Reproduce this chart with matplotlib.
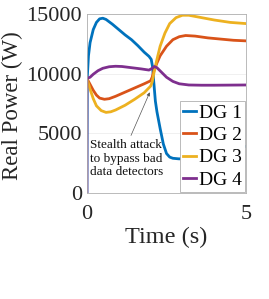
import matplotlib.pyplot as plt

plt.rcParams['font.family'] = ['Liberation Serif', 'DejaVu Serif']

# values (time in s, power in W)
t1 = [0, 0.01, 0.05, 0.1, 0.2, 0.3, 0.4, 0.5, 0.6, 0.8, 1.0, 1.2, 1.4, 1.6, 1.8, 1.95,
      2.02, 2.06, 2.1, 2.15, 2.2, 2.3, 2.4, 2.5, 2.6, 2.7, 2.9, 3.2, 3.6, 4.0, 4.5, 5.0]
p1 = [0, 9600, 11500, 12600, 13700, 14300, 14600, 14650, 14550, 14150, 13700, 13250,
      12850, 12350, 11800, 11450, 11200, 10600, 9300, 7700, 6800, 5400, 4100, 3300,
      3000, 2900, 2850, 2950, 3250, 3500, 3750, 3900]

t2 = [0, 0.1, 0.2, 0.3, 0.4, 0.55, 0.7, 0.9, 1.2, 1.5, 1.8, 2.0, 2.05, 2.1, 2.2, 2.3,
      2.5, 2.7, 2.9, 3.1, 3.4, 3.8, 4.2, 4.6, 5.0]
p2 = [9600, 9100, 8600, 8200, 7950, 7850, 7900, 8100, 8450, 8800, 9150, 9400, 9700,
      10200, 10900, 11500, 12300, 12850, 13100, 13200, 13150, 13000, 12900, 12800, 12750]

t3 = [0, 0.1, 0.2, 0.3, 0.45, 0.6, 0.75, 0.9, 1.2, 1.5, 1.8, 2.0, 2.05, 2.1, 2.2, 2.3,
      2.45, 2.6, 2.8, 3.0, 3.2, 3.6, 4.0, 4.5, 5.0]
p3 = [9600, 8700, 7900, 7300, 6900, 6750, 6800, 6950, 7350, 7850, 8400, 8950, 9300,
      10000, 11200, 12300, 13400, 14200, 14700, 14900, 14900, 14700, 14500, 14300, 14200]

t4 = [0, 0, 0.1, 0.2, 0.35, 0.5, 0.7, 0.9, 1.1, 1.4, 1.7, 1.95, 2.05, 2.12, 2.2, 2.35,
      2.5, 2.7, 2.9, 3.2, 3.6, 4.0, 4.5, 5.0]
p4 = [0, 9600, 9700, 9950, 10250, 10450, 10580, 10620, 10600, 10500, 10400, 10300,
      10450, 10600, 10500, 10100, 9700, 9350, 9150, 9050, 9030, 9030, 9040, 9050]

labels = ['DG 1', 'DG 2', 'DG 3', 'DG 4']
colors = ['#0072BD', '#D95319', '#EDB120', '#7E2F8E']

fig = plt.figure(figsize=(2.69, 2.99), dpi=100)
ax = fig.add_axes([0.323, 0.355, 0.592, 0.598])

for t, p, lab, c in zip([t1, t2, t3, t4], [p1, p2, p3, p4], labels, colors):
    ax.plot(t, p, color=c, lw=2.0, label=lab)

ax.set_xlim(0, 5)
ax.set_ylim(0, 15000)
ax.set_xticks([0, 5])
ax.set_yticks([0, 5000, 10000, 15000])
ax.grid(color='#eeeeee', lw=0.6)
ax.set_axisbelow(True)
ax.tick_params(length=0, labelsize=16, colors='#262626')
ax.tick_params(axis='x', pad=9)
ax.tick_params(axis='y', pad=3.5)
for s in ax.spines.values():
    s.set_color('#b0b0b0')
    s.set_linewidth(0.6)

ax.set_xlabel('Time (s)', fontsize=17.5, color='#262626')
ax.set_ylabel('Real Power (W)', fontsize=16.5, color='#262626')
ax.xaxis.set_label_coords(0.5, -0.19)
ax.yaxis.set_label_coords(-0.40, 0.49)

ax.annotate('', xy=(2.01, 8650), xytext=(1.35, 4600),
            arrowprops=dict(arrowstyle='-|>', color='#555555', lw=0.5,
                            mutation_scale=5))
ax.text(0.1, 4500, 'Stealth attack\nto bypass bad\ndata detectors', fontsize=9.5,
        va='top', ha='left', linespacing=1.15, color='#111111')

leg = ax.legend(loc='lower right', fontsize=14, handlelength=0.7, handletextpad=0.15,
                labelspacing=0.25, borderpad=0.15, borderaxespad=0.05,
                fancybox=False, framealpha=1)
leg.get_frame().set_edgecolor('#b0b0b0')
leg.get_frame().set_linewidth(0.6)

fig.savefig('out.png', dpi=100)
